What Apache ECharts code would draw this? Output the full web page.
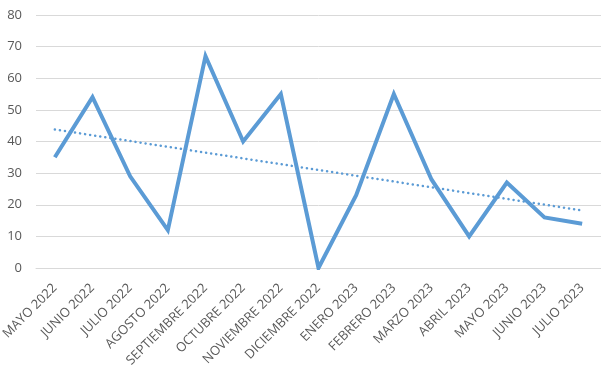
<!DOCTYPE html>
<html><head><meta charset="utf-8">
<script src="https://cdn.jsdelivr.net/npm/echarts@6/dist/echarts.min.js"></script>
<style>html,body{margin:0;padding:0;background:#fff}#c{width:601px;height:373px}</style>
</head><body><div id="c"></div>
<script>
const categories = ["MAYO 2022","JUNIO 2022","JULIO 2022","AGOSTO 2022","SEPTIEMBRE 2022","OCTUBRE 2022","NOVIEMBRE 2022","DICIEMBRE 2022","ENERO 2023","FEBRERO 2023","MARZO 2023","ABRIL 2023","MAYO 2023","JUNIO 2023","JULIO 2023"];
const values = [35,54,29,12,67,40,55,0,23,55,28,10,27,16,14];
const yTicks = {min:0, max:80, interval:10};

// linear trendline (least squares) of the values
const n = values.length;
const mx = (n+1)/2, my = values.reduce((a,b)=>a+b,0)/n;
let sxy=0, sxx=0;
values.forEach((v,i)=>{const x=i+1; sxy+=(x-mx)*(v-my); sxx+=(x-mx)*(x-mx);});
const slope = sxy/sxx;
const trend = values.map((v,i)=> my + slope*((i+1)-mx));

const chart = echarts.init(document.getElementById('c'), null, {renderer:'canvas'});
chart.setOption({
  animation:false,
  grid:{left:36,right:0,top:15,bottom:105,containLabel:false,outerBoundsMode:'none'},
  xAxis:{type:'category',data:categories,boundaryGap:true,
    axisLine:{show:true,lineStyle:{color:'#d9d9d9',width:1}},
    axisTick:{show:false},
    axisLabel:{rotate:45,interval:0,color:'#595959',fontSize:13,fontFamily:'Open Sans, Liberation Sans, sans-serif',margin:18}},
  yAxis:{type:'value',min:yTicks.min,max:yTicks.max,interval:yTicks.interval,
    axisLine:{show:false},axisTick:{show:false},
    axisLabel:{color:'#595959',fontSize:13,fontFamily:'Open Sans, Liberation Sans, sans-serif',margin:14},
    splitLine:{lineStyle:{color:'#d9d9d9',width:1}}},
  series:[
    {type:'line',data:values,symbol:'none',lineStyle:{color:'#5B9BD5',width:4,join:'miter'},z:2},
    {type:'line',data:trend,symbol:'none',lineStyle:{color:'#5B9BD5',width:2.5,type:[0.1,5],cap:'round'},z:3}
  ]
});
</script></body></html>
